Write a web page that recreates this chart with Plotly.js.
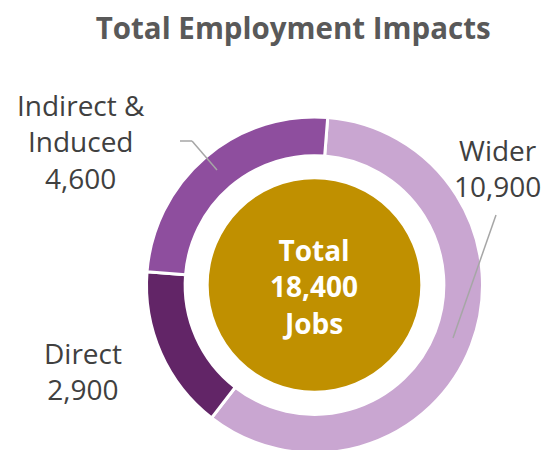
<!DOCTYPE html>
<html>
<head>
<meta charset="utf-8">
<script src="https://cdn.plot.ly/plotly-3.0.1.min.js"></script>
<style>
html,body{margin:0;padding:0;overflow:hidden;background:#fff;width:546px;height:450px;}
#chart{width:546px;height:460px;}
</style>
</head>
<body>
<div id="chart"></div>
<script>
const categories = ["Wider", "Direct", "Indirect & Induced"];
const values = [10900, 2900, 4600];
const labelLines = [["Wider", "10,900"], ["Direct", "2,900"], ["Indirect &", "Induced", "4,600"]];
const totalLines = ["Total", "18,400", "Jobs"];
const totalValue = [18400];
const colors = ["#C9A6D1", "#622567", "#8E4E9E"];

const ring = {
  type: "pie",
  labels: categories,
  values: values,
  sort: false,
  direction: "clockwise",
  rotation: 4.5,
  hole: 0.77,
  textinfo: "none",
  hoverinfo: "label+value",
  marker: {colors: colors, line: {color: "#ffffff", width: 3}},
  domain: {x: [0, 1], y: [0, 1]},
  showlegend: false
};
const centre = {
  type: "pie",
  labels: ["Total"],
  values: totalValue,
  sort: false,
  textinfo: "none",
  hoverinfo: "label+value",
  marker: {colors: ["#C09000"], line: {width: 0}},
  domain: {x: [0.185, 0.815], y: [0.185, 0.815]},
  showlegend: false
};

function px(x){return (x - 146) / 337;}
function py(y){return 1 - (y - 117) / 336;}

const labFont = {family: "Open Sans, sans-serif", size: 28, color: "#404040"};
const annotations = [
  {text: labelLines[0].join("<br>"), xref: "paper", yref: "paper", x: px(497), y: py(168), showarrow: false, font: labFont, align: "center", xanchor: "center", yanchor: "middle"},
  {text: labelLines[1].join("<br>"), xref: "paper", yref: "paper", x: px(83), y: py(371), showarrow: false, font: labFont, align: "center", xanchor: "center", yanchor: "middle"},
  {text: labelLines[2].join("<br>"), xref: "paper", yref: "paper", x: px(81), y: py(141), showarrow: false, font: labFont, align: "center", xanchor: "center", yanchor: "middle"},
  {text: "<b>" + totalLines.join("<br>") + "</b>", xref: "paper", yref: "paper", x: px(314), y: py(286), showarrow: false, font: {family: "Open Sans, sans-serif", size: 28, color: "#ffffff"}, align: "center", xanchor: "center", yanchor: "middle"}
];

const leader = {color: "#A6A6A6", width: 1.5};
const layout = {
  width: 546,
  height: 460,
  margin: {l: 146, r: 63, t: 117, b: 7},
  paper_bgcolor: "#ffffff",
  title: {text: "<b>Total Employment Impacts</b>", font: {family: "Open Sans, sans-serif", size: 29.5, color: "#595959"}, x: 0.537, xanchor: "center", y: 0.937, yanchor: "middle"},
  annotations: annotations,
  shapes: [
    {type: "line", xref: "paper", yref: "paper", x0: px(180), y0: py(141), x1: px(192), y1: py(141), line: leader},
    {type: "line", xref: "paper", yref: "paper", x0: px(192), y0: py(141), x1: px(217), y1: py(170), line: leader},
    {type: "line", xref: "paper", yref: "paper", x0: px(496), y0: py(215), x1: px(453), y1: py(338), line: leader}
  ]
};

Plotly.newPlot("chart", [ring, centre], layout, {displayModeBar: false, staticPlot: true});
</script>
</body>
</html>
